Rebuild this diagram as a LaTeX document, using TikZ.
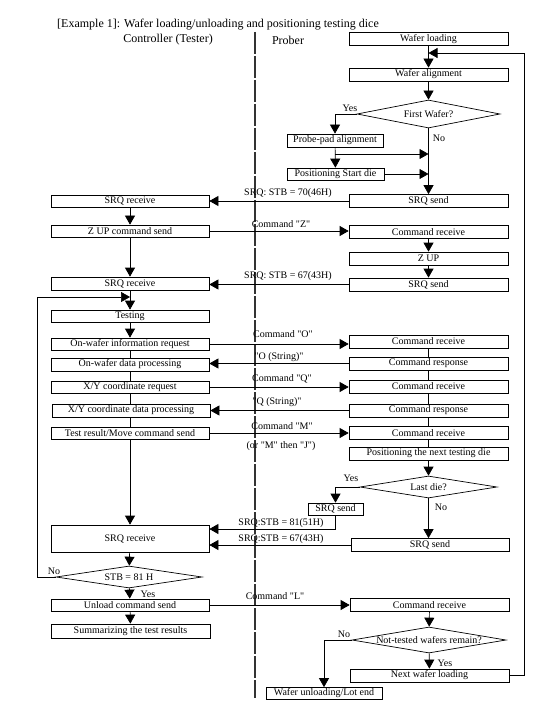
\documentclass[tikz,border=0pt]{standalone}
\usepackage{fontspec}
\setmainfont{Liberation Serif}[Ligatures=TeXOff]
\usetikzlibrary{arrows.meta,shapes.geometric}
\begin{document}
\begin{tikzpicture}[x=1pt,y=-1pt,
  box/.style={draw, line width=0.7pt, inner sep=0pt, minimum height=13pt, font=\fontsize{10}{11}\selectfont},
  lbox/.style={box, minimum width=158pt},
  rbox/.style={box, minimum width=159pt},
  dia/.style={draw, diamond, line width=0.7pt, inner sep=0pt},
  lab/.style={font=\fontsize{10}{11}\selectfont, inner sep=0pt},
  con/.style={line width=0.7pt},
  arr/.style={con, -{Triangle[length=9pt,width=10pt]}},
  sep/.style={line width=1.2pt, draw=black!80, dash pattern=on 22pt off 2pt},
]
\useasboundingbox (0,0) rectangle (552,703);
% title and headers
\node[anchor=west, inner sep=0pt, font=\fontsize{12}{14}\selectfont] (title) at (57,25) {[Example 1]: Wafer loading/unloading and positioning testing dice};
\node[inner sep=0pt, font=\fontsize{12}{14}\selectfont] (hc) at (168,40) {Controller (Tester)};
\node[inner sep=0pt, font=\fontsize{12}{14}\selectfont] (hp) at (288,40) {Prober};
% separator
\coordinate (dt) at (255,32);
\coordinate (db) at (255,698);
\draw[sep] (dt) -- (db);
% right column
\node[rbox] (R1) at (428.5,39) {Wafer loading};
\node[rbox] (R2) at (428.5,74.5) {Wafer alignment};
\node[dia, minimum width=143pt, minimum height=28pt, label={[lab]center:First Wafer?}] (D1) at (428.5,114) {};
\node[box, minimum width=96pt] (P1) at (335,140.5) {Probe-pad alignment};
\node[box, minimum width=97pt, minimum height=12pt] (P2) at (335.5,174) {Positioning Start die};
\node[rbox] (R3) at (428.5,201) {SRQ send};
\node[rbox] (R4) at (428.5,232) {Command receive};
\node[rbox] (R5) at (428.5,258.5) {Z UP};
\node[rbox] (R6) at (428.5,284.5) {SRQ send};
\node[rbox] (R7) at (428.5,341.5) {Command receive};
\node[rbox] (R8) at (428.5,363.5) {Command response};
\node[rbox] (R9) at (428.5,386.5) {Command receive};
\node[rbox] (R10) at (428.5,410.5) {Command response};
\node[rbox] (R11) at (428.5,433) {Command receive};
\node[rbox] (R12) at (428.5,453.5) {Positioning the next testing die};
\node[dia, minimum width=137pt, minimum height=22pt, label={[lab]center:Last die?}] (D2) at (428.5,487) {};
\node[box, minimum width=55pt, minimum height=12pt] (S1) at (335.5,509) {SRQ send};
\node[box, minimum width=158pt] (R13) at (430,545) {SRQ send};
\node[box, minimum width=159pt] (R14) at (429.5,605) {Command receive};
\node[dia, minimum width=154pt, minimum height=26pt, label={[lab]center:Not-tested wafers remain?}] (D4) at (429,640) {};
\node[box, minimum width=159pt] (R15) at (429.5,675.5) {Next wafer loading};
\node[box, minimum width=116pt, minimum height=12pt] (WU) at (324,693.5) {Wafer unloading/Lot end};
% left column
\node[lbox, minimum height=12pt] (L1) at (130,201) {SRQ receive};
\node[lbox, minimum height=12pt] (L2) at (130,231) {Z UP command send};
\node[lbox] (L3) at (130,283.5) {SRQ receive};
\node[lbox, minimum height=12pt] (L4) at (130,316) {Testing};
\node[lbox, minimum height=12pt] (L5) at (130,344) {On-wafer information request};
\node[lbox] (L6) at (130,364.5) {On-wafer data processing};
\node[lbox, minimum height=12pt] (L7) at (130,387) {X/Y coordinate request};
\node[lbox] (L8) at (131,410.5) {X/Y coordinate data processing};
\node[lbox, minimum height=12pt] (L9) at (130,433) {Test result/Move command send};
\node[lbox, minimum height=27pt] (L10) at (130,538.5) {SRQ receive};
\node[dia, minimum width=146pt, minimum height=22pt, label={[lab]center:STB = 81 H}] (D3) at (129,577) {};
\node[lbox, minimum height=12pt] (L11) at (130,605) {Unload command send};
\node[box, minimum width=159pt, minimum height=14pt] (L12) at (130.5,631) {Summarizing the test results};
% message labels
\node[lab] (m1) at (288,193) {SRQ: STB = 70(46H)};
\node[lab] (m2) at (281,224) {Command "Z"};
\node[lab] (m3) at (288,276) {SRQ: STB = 67(43H)};
\node[lab] (m4) at (283,334) {Command "O"};
\node[lab] (m5) at (279,357) {"O (String)"};
\node[lab] (m6) at (282,379) {Command "Q"};
\node[lab] (m7) at (277,402) {"Q (String)"};
\node[lab] (m8) at (282,426) {Command "M"};
\node[lab] (m9) at (281,446) {(or "M" then "J")};
\node[lab] (m10) at (281,523) {SRQ:STB = 81(51H)};
\node[lab] (m11) at (281,539) {SRQ:STB = 67(43H)};
\node[lab] (m12) at (275,596) {Command "L"};
% yes/no labels
\node[lab] (y1) at (350,108) {Yes};
\node[lab] (n1) at (439,138) {No};
\node[lab] (y2) at (351,478) {Yes};
\node[lab] (n2) at (441,507) {No};
\node[lab] (n3) at (54,571) {No};
\node[lab] (y3) at (148,594) {Yes};
\node[lab] (n4) at (344,634) {No};
\node[lab] (y4) at (445,663) {Yes};
% right column flow
\draw[arr] (R1) -- (R2);
\draw[arr] (R2) -- (D1);
\draw[arr] (D1.west) -| (P1.north);
\draw[arr] (D1.south) -- (R3.north);
\draw[arr] (P1) -- (P2);
\coordinate (j1) at (335,154);
\draw[arr] (j1) -- (j1 -| D1.south);
\draw[arr] (P2.east) -- (P2.east -| D1.south);
\draw[arr] (R4) -- (R5);
\draw[arr] (R5) -- (R6);
\draw[con] (R7) -- (R8);
\draw[con] (R8) -- (R9);
\draw[con] (R9) -- (R10);
\draw[con] (R10) -- (R11);
\draw[con] (R11) -- (R12);
\draw[arr] (R12) -- (D2);
\draw[arr] (D2.west) -| (S1.north);
\draw[arr] (D2.south) -- (D2.south |- R13.north);
\draw[arr] (R14) -- (D4);
\draw[arr] (D4.west) -| (WU.north);
\draw[arr] (D4) -- (R15);
\coordinate (rc) at (524,53);
\coordinate (rt) at (428.5,53);
\draw[arr] (R15.east) -| (rc) -- (rt);
% left column flow
\draw[arr] (L1) -- (L2);
\draw[arr] (L2) -- (L3);
\draw[arr] (L3) -- (L4);
\draw[arr] (L4) -- (L5);
\draw[con] (L5) -- (L6);
\draw[con] (L6) -- (L7);
\draw[con] (L7.south) -- (L7.south |- L8.north);
\draw[con] (L8.south -| L9.south) -- (L9.north);
\draw[arr] (L9) -- (L10);
\draw[arr] (L10) -- (D3);
\draw[arr] (D3) -- (L11);
\draw[arr] (L11) -- (L12);
\coordinate (lc) at (37,297);
\coordinate (lp) at (130,297);
\draw[arr] (D3.west) -| (lc) -- (lp);
% messages
\draw[arr] (R3.west) -- (R3.west -| L1.east);
\draw[arr] (L2.east) -- (L2.east -| R4.west);
\draw[arr] (R6.west) -- (R6.west -| L3.east);
\draw[arr] (L5.east) -- (L5.east -| R7.west);
\draw[arr] (R8.west) -- (R8.west -| L6.east);
\draw[arr] (L7.east) -- (L7.east -| R9.west);
\draw[arr] (R10.west) -- (R10.west -| L8.east);
\draw[arr] (L9.east) -- (L9.east -| R11.west);
\coordinate (sc) at (335.5,529);
\draw[arr] (S1.south) -- (sc) -- (sc -| L10.east);
\draw[arr] (R13.west) -- (R13.west -| L10.east);
\draw[arr] (L11.east) -- (L11.east -| R14.west);
\end{tikzpicture}
\end{document}
